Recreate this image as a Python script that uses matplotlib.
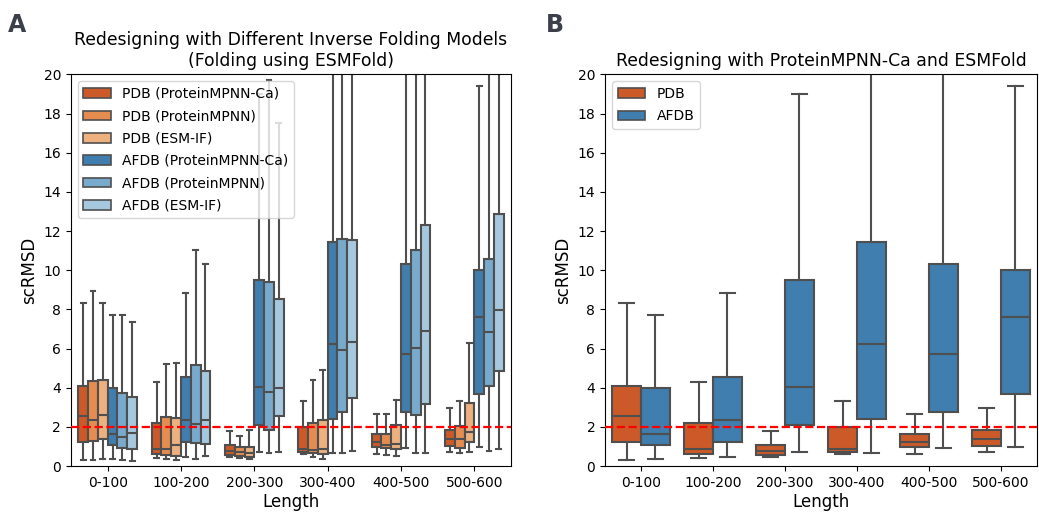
import matplotlib.pyplot as plt
import numpy as np
from matplotlib.patches import Patch

lengths = ["0-100", "100-200", "200-300", "300-400", "400-500", "500-600"]

# whisker low, Q1, median, Q3, whisker high for every length bin
pdb_ca = {"lo": [0.32, 0.41, 0.46, 0.63, 0.63, 0.73],
          "q1": [1.24, 0.61, 0.58, 0.73, 0.95, 1.04],
          "med": [2.53, 0.88, 0.77, 0.87, 1.22, 1.38],
          "q3": [4.10, 2.18, 1.07, 1.99, 1.65, 1.82],
          "hi": [8.32, 4.30, 1.80, 3.30, 2.64, 2.98]}
pdb_mpnn = {"lo": [0.32, 0.36, 0.39, 0.44, 0.58, 0.66],
            "q1": [1.29, 0.56, 0.53, 0.66, 0.92, 0.92],
            "med": [2.36, 0.85, 0.71, 0.80, 1.07, 1.36],
            "q3": [4.35, 2.52, 0.95, 2.21, 1.62, 2.06],
            "hi": [8.93, 5.19, 1.51, 4.40, 2.67, 3.33]}
pdb_esmif = {"lo": [0.34, 0.29, 0.36, 0.36, 0.53, 0.73],
             "q1": [1.38, 0.51, 0.44, 0.60, 0.85, 1.21],
             "med": [2.62, 1.05, 0.68, 0.88, 1.14, 1.73],
             "q3": [4.37, 2.47, 0.99, 2.35, 2.07, 3.23],
             "hi": [8.33, 5.24, 1.82, 4.88, 3.38, 6.29]}
afdb_ca = {"lo": [0.37, 0.48, 0.71, 0.68, 0.94, 0.97],
           "q1": [1.09, 1.24, 2.09, 2.38, 2.74, 3.66],
           "med": [1.62, 2.35, 4.05, 6.21, 5.70, 7.59],
           "q3": [4.01, 4.54, 9.52, 11.43, 10.34, 10.02],
           "hi": [7.70, 8.83, 19.00, 24.0, 23.5, 19.39]}
afdb_mpnn = {"lo": [0.32, 0.37, 0.68, 0.68, 0.65, 0.78],
             "q1": [0.90, 1.19, 1.82, 2.77, 2.59, 4.08],
             "med": [1.48, 2.13, 3.78, 5.94, 6.02, 6.87],
             "q3": [3.72, 5.14, 9.39, 11.60, 11.04, 10.60],
             "hi": [7.74, 11.05, 19.73, 25.0, 24.0, 23.0]}
afdb_esmif = {"lo": [0.27, 0.53, 0.73, 0.78, 0.68, 0.87],
              "q1": [0.85, 1.11, 2.57, 3.50, 3.15, 4.83],
              "med": [1.68, 2.33, 4.01, 6.36, 6.92, 7.96],
              "q3": [3.55, 4.85, 8.54, 11.57, 12.31, 12.89],
              "hi": [7.38, 10.31, 17.50, 25.0, 26.0, 27.0]}

models_a = ["PDB (ProteinMPNN-Ca)", "PDB (ProteinMPNN)", "PDB (ESM-IF)",
            "AFDB (ProteinMPNN-Ca)", "AFDB (ProteinMPNN)", "AFDB (ESM-IF)"]
colors_a = ["#cb5a28", "#e58d51", "#edb07f", "#3f7eae", "#77aacd", "#a5c8de"]

models_b = ["PDB", "AFDB"]
colors_b = ["#cb5a28", "#3f7eae"]

LINE = "#4f4f4f"


def draw_boxes(ax, series, colors, names):
    n = len(series)
    width = 0.8 / n
    x = np.arange(len(lengths))
    for i, (s, c) in enumerate(zip(series, colors)):
        stats = [dict(whislo=s["lo"][k], q1=s["q1"][k], med=s["med"][k],
                      q3=s["q3"][k], whishi=s["hi"][k], fliers=[])
                 for k in range(len(lengths))]
        pos = x - 0.4 + width * (i + 0.5)
        ax.bxp(stats, positions=pos, widths=width, patch_artist=True,
               showfliers=False, manage_ticks=False,
               boxprops=dict(facecolor=c, edgecolor=LINE, linewidth=1.5),
               medianprops=dict(color=LINE, linewidth=1.5),
               whiskerprops=dict(color=LINE, linewidth=1.5),
               capprops=dict(color=LINE, linewidth=1.5))
    handles = [Patch(facecolor=c, edgecolor=LINE, linewidth=1.2, label=m)
               for c, m in zip(colors, names)]
    ax.legend(handles=handles, loc="upper left", fontsize=10, labelspacing=0.6)

    ax.axhline(2, color="red", linestyle="--", linewidth=1.6, zorder=5)
    ax.set_xlim(-0.5, len(lengths) - 0.5)
    ax.set_ylim(0, 20)
    ax.set_yticks(range(0, 21, 2))
    ax.set_xticks(x)
    ax.set_xticklabels(lengths)
    ax.tick_params(labelsize=10)
    ax.set_xlabel("Length", fontsize=12, labelpad=2)
    ax.set_ylabel("scRMSD", fontsize=12)


fig = plt.figure(figsize=(10.39, 5.12), dpi=100)
ax_a = fig.add_axes([0.0683, 0.0898, 0.4235, 0.7647])
ax_b = fig.add_axes([0.5823, 0.0898, 0.4158, 0.7647])

draw_boxes(ax_a, [pdb_ca, pdb_mpnn, pdb_esmif, afdb_ca, afdb_mpnn, afdb_esmif],
           colors_a, models_a)
ax_a.set_title("Redesigning with Different Inverse Folding Models\n(Folding using ESMFold)",
               fontsize=12.4)

draw_boxes(ax_b, [pdb_ca, afdb_ca], colors_b, models_b)
ax_b.set_title("Redesigning with ProteinMPNN-Ca and ESMFold", fontsize=12.4)

fig.text(0.008, 0.9375, "A", fontsize=17, fontweight="bold", color="#3a3f4a", va="baseline")
fig.text(0.525, 0.9375, "B", fontsize=17, fontweight="bold", color="#3a3f4a", va="baseline")

fig.savefig("out.png", dpi=100)
